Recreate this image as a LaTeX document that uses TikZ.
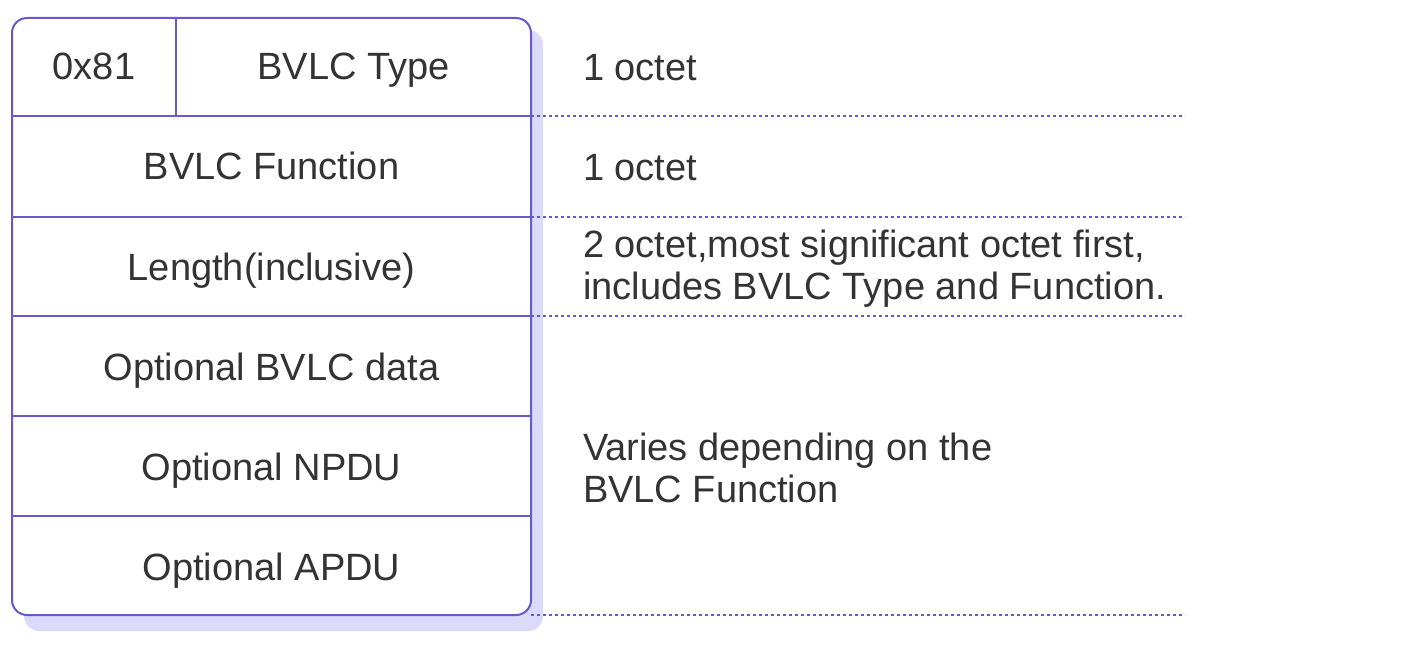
\documentclass[tikz,border=0pt]{standalone}
\usepackage{fontspec}
\setmainfont{Liberation Sans}
\definecolor{linepurple}{RGB}{104,88,208}
\definecolor{shadowpurple}{RGB}{220,218,251}
\definecolor{textgray}{RGB}{51,51,51}
\tikzset{
  cell/.style={text=textgray,font=\fontsize{19}{21}\selectfont,anchor=base},
  note/.style={text=textgray,font=\fontsize{19}{21}\selectfont,anchor=west,align=left},
  sep/.style={linepurple,line width=1pt},
  guide/.style={linepurple,line width=1pt,dash pattern=on 1.4pt off 1.6pt}
}
\begin{document}
\begin{tikzpicture}[x=0.5pt,y=-0.5pt]
			\useasboundingbox (0,0) rectangle (1422,652);
			\coordinate (TL) at (12,18);
			\coordinate (BR) at (531,615);

			\fill[shadowpurple,rounded corners=7.5pt] (24,30) rectangle (543,631);
			\draw[sep,fill=white,rounded corners=7.5pt] (TL) rectangle (BR);

			\draw[sep] (12,116) -- (531,116);
			\draw[sep] (12,217) -- (531,217);
			\draw[sep] (12,316) -- (531,316);
			\draw[sep] (12,416) -- (531,416);
			\draw[sep] (12,516) -- (531,516);
			\draw[sep] (176,18) -- (176,116);

			% text sits on its baseline
			\node[cell] (code) at (94,80) {0x81};
			\node[cell] (type) at (353.5,80) {BVLC Type};
			\node[cell] (func) at (271.5,180) {BVLC Function};
			\node[cell] (len) at (271.5,280) {Length(inclusive)};
			\node[cell] (data) at (271.5,380) {Optional BVLC data};
			\node[cell] (npdu) at (271.5,480) {Optional NPDU};
			\node[cell] (apdu) at (271.5,580) {Optional APDU};

			\node[note] (typenote) at (576,68) {1 octet};
			\node[note] (funcnote) at (576,168) {1 octet};
			\node[note] (lennote) at (576,269) {2 octet,most significant octet first,\\includes BVLC Type and Function.};
			\node[note] (restnote) at (576,468) {Varies depending on the\\BVLC Function};

			\draw[guide] (531,116) -- (1185,116);
			\draw[guide] (531,217) -- (1185,217);
			\draw[guide] (531,316) -- (1185,316);
			\draw[guide] (531,615) -- (1185,615);
		    \end{tikzpicture}
\end{document}
